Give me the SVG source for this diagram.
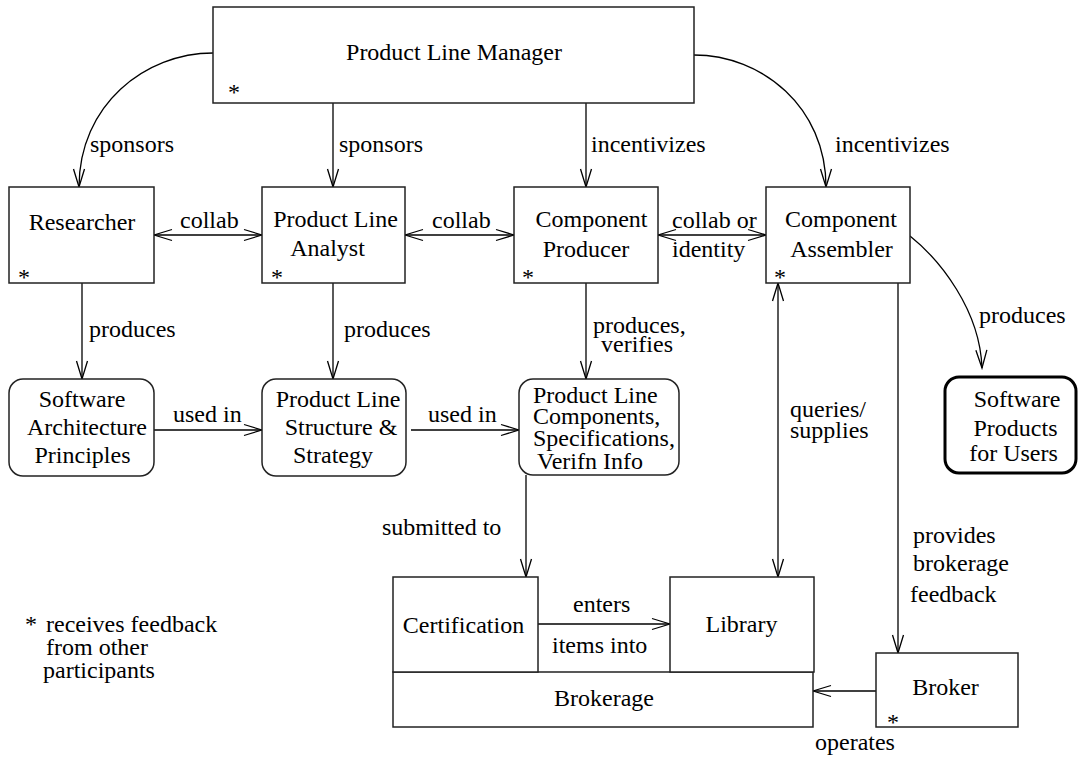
<svg xmlns="http://www.w3.org/2000/svg" width="1083" height="758" viewBox="0 0 1083 758" font-family="'Liberation Serif', 'Times New Roman', serif" font-size="24">
<style>
text{font-family:'Liberation Serif','Times New Roman',serif;font-size:24px;fill:#000}
.m{text-anchor:middle}
.box{fill:#fff;stroke:#222;stroke-width:1.5}
.thick{fill:#fff;stroke:#000;stroke-width:3}
.c{fill:none;stroke:#000;stroke-width:1.3}
.a{marker-end:url(#ah)}
.b{marker-start:url(#ah);marker-end:url(#ah)}
</style>
<defs>
<marker id="ah" viewBox="-20 -7 22 14" refX="0" refY="0" markerWidth="22" markerHeight="14" markerUnits="userSpaceOnUse" orient="auto-start-reverse">
<path d="M-18,-5.5 L0,0 L-18,5.5" fill="none" stroke="#000" stroke-width="1.3"/>
</marker>
</defs>
<rect width="1083" height="758" fill="#fff"/>
<g id="connectors">
<path class="c a" d="M213,53 C145,53 79,105 79,187"/>
<path class="c a" d="M333,103 V187"/>
<path class="c a" d="M586,103 V187"/>
<path class="c a" d="M694,55 C762,55 826,107 826,187"/>
<path class="c b" d="M154,235 H262"/>
<path class="c b" d="M405,235 H514"/>
<path class="c b" d="M658,235 H766"/>
<path class="c a" d="M82,283 V379"/>
<path class="c a" d="M333,283 V379"/>
<path class="c a" d="M586,283 V379"/>
<path class="c a" d="M154,430 H262"/>
<path class="c a" d="M411,430 H519"/>
<path class="c a" d="M526,475 V577"/>
<path class="c b" d="M778,283 V577"/>
<path class="c a" d="M898,283 V653"/>
<path class="c a" d="M538,624 H670"/>
<path class="c a" d="M876,691 H813"/>
<path class="c a" d="M910,236 C940,260 980,310 982,368"/>
<text x="90" y="152">sponsors</text>
<text x="339" y="152">sponsors</text>
<text x="591" y="152">incentivizes</text>
<text x="835" y="152">incentivizes</text>
<text x="180" y="228">collab</text>
<text x="432" y="228">collab</text>
<text x="672" y="228">collab or</text>
<text x="672" y="257">identity</text>
<text x="89" y="337">produces</text>
<text x="344" y="337">produces</text>
<text x="593" y="333">produces,</text>
<text x="601" y="352">verifies</text>
<text x="173" y="422">used in</text>
<text x="428" y="422">used in</text>
<text x="790" y="417">queries/</text>
<text x="790" y="438">supplies</text>
<text x="979" y="323">produces</text>
<text x="382" y="535">submitted to</text>
<text x="573" y="612">enters</text>
<text x="552" y="653">items into</text>
<text x="913" y="543">provides</text>
<text x="913" y="571">brokerage</text>
<text x="910" y="602">feedback</text>
<text x="815" y="750">operates</text>
</g>
<g id="plm">
<rect class="box" x="213" y="7" width="481" height="96"/>
<text class="m" x="454" y="60">Product Line Manager</text>
<text x="228" y="100">*</text>
</g>
<g id="researcher">
<rect class="box" x="9" y="187" width="145" height="96"/>
<text class="m" x="82" y="230">Researcher</text>
<text x="18" y="285">*</text>
</g>
<g id="pla">
<rect class="box" x="262" y="187" width="143" height="96"/>
<text class="m" x="335.5" y="227">Product Line</text>
<text class="m" x="327.5" y="256">Analyst</text>
<text x="271" y="285">*</text>
</g>
<g id="cp">
<rect class="box" x="514" y="187" width="144" height="96"/>
<text class="m" x="591.5" y="227">Component</text>
<text class="m" x="586" y="257">Producer</text>
<text x="522" y="285">*</text>
</g>
<g id="ca">
<rect class="box" x="766" y="187" width="144" height="96"/>
<text class="m" x="841" y="227">Component</text>
<text class="m" x="841.5" y="257">Assembler</text>
<text x="774" y="285">*</text>
</g>
<g id="sap">
<rect class="box" x="9" y="379" width="145" height="97" rx="14"/>
<text class="m" x="82" y="407">Software</text>
<text class="m" x="87" y="435">Architecture</text>
<text class="m" x="82.5" y="463">Principles</text>
</g>
<g id="plss">
<rect class="box" x="262" y="379" width="144" height="97" rx="14"/>
<text class="m" x="338" y="407">Product Line</text>
<text class="m" x="341" y="435">Structure &amp;</text>
<text class="m" x="333" y="463">Strategy</text>
</g>
<g id="plc">
<rect class="box" x="519" y="379" width="160" height="96" rx="14"/>
<text x="533" y="403">Product Line</text>
<text x="533" y="424">Components,</text>
<text x="533" y="446">Specifications,</text>
<text x="537" y="469">Verifn Info</text>
</g>
<g id="spu">
<rect class="thick" x="945" y="377" width="131" height="96" rx="14"/>
<text class="m" x="1017" y="407">Software</text>
<text class="m" x="1015.5" y="436">Products</text>
<text class="m" x="1013.5" y="461">for Users</text>
</g>
<g id="brokerage">
<rect class="box" x="393" y="672" width="420" height="55"/>
<text class="m" x="604" y="706">Brokerage</text>
</g>
<g id="certification">
<rect class="box" x="393" y="577" width="145" height="95"/>
<text class="m" x="463.5" y="633">Certification</text>
</g>
<g id="library">
<rect class="box" x="670" y="577" width="144" height="95"/>
<text class="m" x="741.5" y="632">Library</text>
</g>
<g id="broker">
<rect class="box" x="876" y="653" width="142" height="74"/>
<text class="m" x="945.5" y="695">Broker</text>
<text x="887" y="730">*</text>
</g>
<g id="legend">
<text x="25" y="632">*</text>
<text x="46" y="632">receives feedback</text>
<text x="46" y="655">from other</text>
<text x="43" y="678">participants</text>
</g>
</svg>
